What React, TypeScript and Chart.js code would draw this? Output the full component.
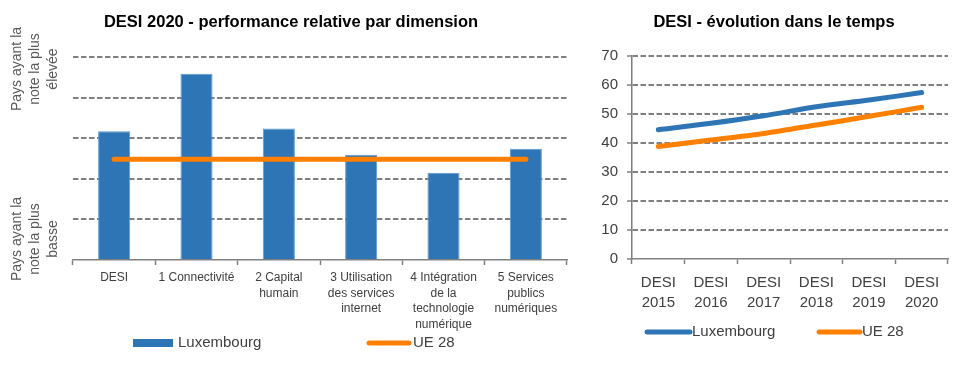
import React, { useEffect, useRef } from "react";
import { Chart, registerables } from "chart.js";

Chart.register(...registerables);

// ---------- data ----------
const dimTitle = "DESI 2020 - performance relative par dimension";
const dimCategories: string[][] = [
  ["DESI"],
  ["1 Connectivité"],
  ["2 Capital", "humain"],
  ["3 Utilisation", "des services", "internet"],
  ["4 Intégration", "de la", "technologie", "numérique"],
  ["5 Services", "publics", "numériques"],
];
const dimLuxembourg = [3.17, 4.59, 3.24, 2.59, 2.15, 2.74];
const dimEU = [2.48, 2.48, 2.48, 2.48, 2.48, 2.48];
const dimAxisTop = ["Pays ayant la", "note la plus", "élevée"];
const dimAxisBottom = ["Pays ayant la", "note la plus", "basse"];

const yearTitle = "DESI - évolution dans le temps";
const yearCategories: string[][] = [
  ["DESI", "2015"],
  ["DESI", "2016"],
  ["DESI", "2017"],
  ["DESI", "2018"],
  ["DESI", "2019"],
  ["DESI", "2020"],
];
const yearLuxembourg = [44.6, 46.8, 49.4, 52.5, 54.8, 57.4];
const yearEU = [38.8, 41.0, 43.3, 46.2, 49.2, 52.3];

const seriesLux = "Luxembourg";
const seriesEU = "UE 28";

// ---------- styles ----------
const BLUE = "#2E75B6";
const ORANGE = "#FF8000";
const GRID = "#808080";
const TEXT = "#404040";
const FONT = "'Liberation Sans', Arial, sans-serif";
const DASH = [5.5, 2.5];

const leftDecor = {
  id: "leftDecor",
  afterDraw(chart: any) {
    const ctx = chart.ctx as CanvasRenderingContext2D;
    ctx.save();
    ctx.textAlign = "center";
    ctx.textBaseline = "middle";
    ctx.fillStyle = "#000";
    ctx.font = `bold 16.5px ${FONT}`;
    ctx.fillText(dimTitle, 291, 22);

    ctx.font = `14px ${FONT}`;
    ctx.fillStyle = "#595959";
    const groups: [number, string[]][] = [
      [69, dimAxisTop],
      [239, dimAxisBottom],
    ];
    groups.forEach(([cy, lines]) => {
      lines.forEach((t, i) => {
        ctx.save();
        ctx.translate(17 + i * 18, cy);
        ctx.rotate(-Math.PI / 2);
        ctx.fillText(t, 0, 0);
        ctx.restore();
      });
    });

    // legend
    const ds = chart.data.datasets;
    ctx.textAlign = "left";
    ctx.fillStyle = BLUE;
    ctx.fillRect(133, 339, 40, 8);
    ctx.fillStyle = TEXT;
    ctx.font = `15px ${FONT}`;
    ctx.fillText(ds[0].label, 178, 343);
    ctx.strokeStyle = ORANGE;
    ctx.lineWidth = 5;
    ctx.lineCap = "round";
    ctx.beginPath();
    ctx.moveTo(369, 343);
    ctx.lineTo(409, 343);
    ctx.stroke();
    ctx.fillText(ds[1].label, 413, 343);
    ctx.restore();
  },
};

const rightDecor = {
  id: "rightDecor",
  afterDraw(chart: any) {
    const ctx = chart.ctx as CanvasRenderingContext2D;
    ctx.save();
    ctx.textAlign = "center";
    ctx.textBaseline = "middle";
    ctx.fillStyle = "#000";
    ctx.font = `bold 16.5px ${FONT}`;
    ctx.fillText(yearTitle, 194, 22);

    const ds = chart.data.datasets;
    ctx.textAlign = "left";
    ctx.font = `15px ${FONT}`;
    ctx.lineWidth = 5;
    ctx.lineCap = "round";
    ctx.strokeStyle = BLUE;
    ctx.beginPath();
    ctx.moveTo(67, 332);
    ctx.lineTo(110, 332);
    ctx.stroke();
    ctx.fillStyle = TEXT;
    ctx.fillText(ds[0].label, 112, 332);
    ctx.strokeStyle = ORANGE;
    ctx.beginPath();
    ctx.moveTo(239, 332);
    ctx.lineTo(280, 332);
    ctx.stroke();
    ctx.fillText(ds[1].label, 282, 332);
    ctx.restore();
  },
};

function DimensionChart() {
  const ref = useRef<HTMLCanvasElement | null>(null);
  useEffect(() => {
    if (!ref.current) return;
    const chart = new Chart(ref.current, {
      type: "bar",
      data: {
        labels: dimCategories as any,
        datasets: [
          {
            type: "bar",
            label: seriesLux,
            data: dimLuxembourg,
            backgroundColor: BLUE,
            borderColor: "#5B9BD5",
            borderWidth: 1,
            barPercentage: 0.39,
            categoryPercentage: 1,
            order: 2,
          } as any,
          {
            type: "line",
            label: seriesEU,
            data: dimEU,
            borderColor: ORANGE,
            borderWidth: 5,
            borderCapStyle: "round",
            pointRadius: 0,
            order: 1,
          } as any,
        ],
      },
      options: {
        responsive: false,
        animation: false,
        layout: { padding: { left: 73, right: 13, top: 57, bottom: 0 } },
        plugins: { legend: { display: false }, title: { display: false }, tooltip: { enabled: false } },
        scales: {
          x: {
            grid: {
              offset: true,
              drawOnChartArea: false,
              drawTicks: true,
              tickLength: 5,
              tickColor: GRID,
              tickWidth: 1.5,
            },
            border: { display: true, color: GRID, width: 1.5 },
            ticks: {
              autoSkip: false,
              maxRotation: 0,
              minRotation: 0,
              padding: 5,
              color: TEXT,
              font: { family: FONT, size: 12, lineHeight: 1.3 },
            },
            afterFit: (s: any) => {
              s.height = 126;
            },
          },
          y: {
            min: 0,
            max: 5,
            ticks: { display: false, stepSize: 1 },
            grid: {
              drawTicks: false,
              color: (c: any) => (c.tick && c.tick.value === 0 ? "rgba(0,0,0,0)" : GRID),
              lineWidth: 2,
            },
            border: { display: false, dash: DASH },
            afterFit: (s: any) => {
              s.width = 0;
            },
          } as any,
        },
      },
      plugins: [leftDecor],
    });
    return () => chart.destroy();
  }, []);
  return <canvas ref={ref} width={580} height={386} style={{ position: "absolute", left: 0, top: 0 }} />;
}

function EvolutionChart() {
  const ref = useRef<HTMLCanvasElement | null>(null);
  useEffect(() => {
    if (!ref.current) return;
    const chart = new Chart(ref.current, {
      type: "line",
      data: {
        labels: yearCategories as any,
        datasets: [
          {
            label: seriesLux,
            data: yearLuxembourg,
            borderColor: BLUE,
            borderWidth: 5,
            borderCapStyle: "round",
            pointRadius: 0,
            tension: 0.3,
          } as any,
          {
            label: seriesEU,
            data: yearEU,
            borderColor: ORANGE,
            borderWidth: 5,
            borderCapStyle: "round",
            pointRadius: 0,
            tension: 0.3,
          } as any,
        ],
      },
      options: {
        responsive: false,
        animation: false,
        layout: { padding: { left: 0, right: 12, top: 56, bottom: 0 } },
        plugins: { legend: { display: false }, title: { display: false }, tooltip: { enabled: false } },
        scales: {
          x: {
            offset: true,
            grid: {
              offset: true,
              drawOnChartArea: false,
              drawTicks: true,
              tickLength: 5,
              tickColor: GRID,
              tickWidth: 1.5,
            },
            border: { display: true, color: GRID, width: 1.5 },
            ticks: {
              autoSkip: false,
              maxRotation: 0,
              minRotation: 0,
              padding: 9,
              color: TEXT,
              font: { family: FONT, size: 15, lineHeight: 1.33 },
            },
            afterFit: (s: any) => {
              s.height = 127;
            },
          },
          y: {
            min: 0,
            max: 70,
            ticks: { stepSize: 10, padding: 9, color: TEXT, font: { family: FONT, size: 15 } },
            grid: {
              drawTicks: true,
              tickLength: 5,
              tickColor: GRID,
              tickWidth: 1.5,
              tickBorderDash: [],
              color: (c: any) => (c.tick && c.tick.value === 0 ? "rgba(0,0,0,0)" : GRID),
              lineWidth: 2,
            },
            border: { display: true, color: GRID, width: 1.5, dash: DASH },
            afterFit: (s: any) => {
              s.width = 52;
            },
          } as any,
        },
      },
      plugins: [rightDecor],
    });
    return () => chart.destroy();
  }, []);
  return <canvas ref={ref} width={380} height={386} style={{ position: "absolute", left: 580, top: 0 }} />;
}

export default function App() {
  useEffect(() => {
    document.body.style.margin = "0";
  }, []);
  return (
    <div style={{ position: "fixed", left: 0, top: 0, width: 960, height: 386, background: "#fff" }}>
      <DimensionChart />
      <EvolutionChart />
    </div>
  );
}
